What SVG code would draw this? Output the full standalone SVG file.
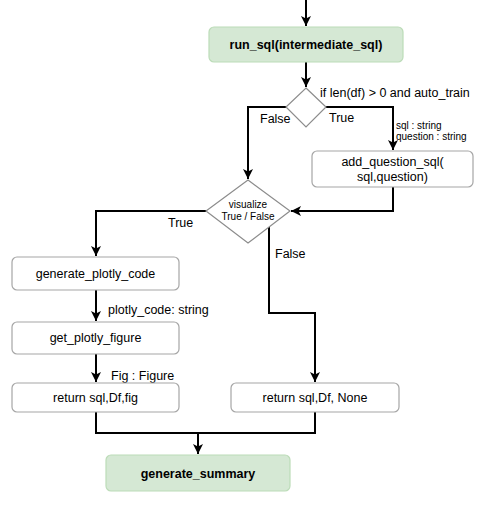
<svg xmlns="http://www.w3.org/2000/svg" width="502" height="515" viewBox="0 0 502 515">
<style>
.bx{fill:#fff;stroke:#a6a6a6;stroke-width:1.2}
.gr{fill:#d5e8d4;stroke:#bcdcb8;stroke-width:1.2}
.dm{fill:#fff;stroke:#8c8c8c;stroke-width:1.2}
.ln{fill:none;stroke:#000;stroke-width:2}
.t{font-family:"Liberation Sans",Arial,sans-serif;font-size:12.5px;fill:#000}
.c{text-anchor:middle}
.b{font-weight:bold}
.s{font-size:10px}
</style>
<defs>
<marker id="ah" viewBox="0 0 10 10" refX="10" refY="5" markerWidth="10" markerHeight="10" markerUnits="userSpaceOnUse" orient="auto">
<path d="M0,0 L10,5 L0,10 L2.5,5 z" fill="#000"/>
</marker>
</defs>
<g id="connectors">
<path class="ln" d="M306,0 L306,26" marker-end="url(#ah)"/>
<path class="ln" d="M306,62 L306,87" marker-end="url(#ah)"/>
<path class="ln" d="M286,107 L248,107 L248,179" marker-end="url(#ah)"/>
<path class="ln" d="M326,107 L393,107 L393,150" marker-end="url(#ah)"/>
<path class="ln" d="M393,187 L393,211 L291,211" marker-end="url(#ah)"/>
<path class="ln" d="M206,211 L96,211 L96,256" marker-end="url(#ah)"/>
<path class="ln" d="M96,290 L96,321" marker-end="url(#ah)"/>
<path class="ln" d="M96,354 L96,382" marker-end="url(#ah)"/>
<path class="ln" d="M269,227 L269,313 L315,313 L315,382" marker-end="url(#ah)"/>
<path class="ln" d="M96,412 L96,433 L315,433 L315,412"/>
<path class="ln" d="M198,433 L198,454" marker-end="url(#ah)"/>
<text class="t" x="320" y="97">if len(df) &gt; 0 and auto_train</text>
<text class="t" x="260" y="123">False</text>
<text class="t" x="329" y="122">True</text>
<text class="t s" x="396" y="129">sql : string</text>
<text class="t s" x="396" y="140">question : string</text>
<text class="t" x="168" y="227">True</text>
<text class="t" x="275" y="258">False</text>
<text class="t" x="108" y="314">plotly_code: string</text>
<text class="t" x="111" y="380">Fig : Figure</text>
</g>
<g id="run_sql">
<rect class="gr" x="209" y="27" width="194" height="35" rx="5"/>
<text class="t c b" x="306" y="49">run_sql(intermediate_sql)</text>
</g>
<g id="cond_train">
<polygon class="dm" points="306,88 326,107 306,127 286,107"/>
</g>
<g id="add_question_sql">
<rect class="bx" x="312" y="151" width="161" height="36" rx="5"/>
<text class="t c" x="392.5" y="166">add_question_sql(</text>
<text class="t c" x="392.5" y="181">sql,question)</text>
</g>
<g id="visualize">
<polygon class="dm" points="248,180 290,211 248,243 206,211"/>
<text class="t c s" x="248" y="208">visualize</text>
<text class="t c s" x="248" y="220">True / False</text>
</g>
<g id="generate_plotly_code">
<rect class="bx" x="12" y="257" width="167" height="33" rx="5"/>
<text class="t c" x="95.5" y="278">generate_plotly_code</text>
</g>
<g id="get_plotly_figure">
<rect class="bx" x="12" y="322" width="167" height="32" rx="5"/>
<text class="t c" x="95.5" y="342">get_plotly_figure</text>
</g>
<g id="return_fig">
<rect class="bx" x="12" y="383" width="167" height="29" rx="5"/>
<text class="t c" x="95.5" y="402">return sql,Df,fig</text>
</g>
<g id="return_none">
<rect class="bx" x="231" y="383" width="168" height="29" rx="5"/>
<text class="t c" x="315" y="402">return sql,Df, None</text>
</g>
<g id="generate_summary">
<rect class="gr" x="106" y="455" width="184" height="36" rx="5"/>
<text class="t c b" x="198" y="478">generate_summary</text>
</g>
</svg>
